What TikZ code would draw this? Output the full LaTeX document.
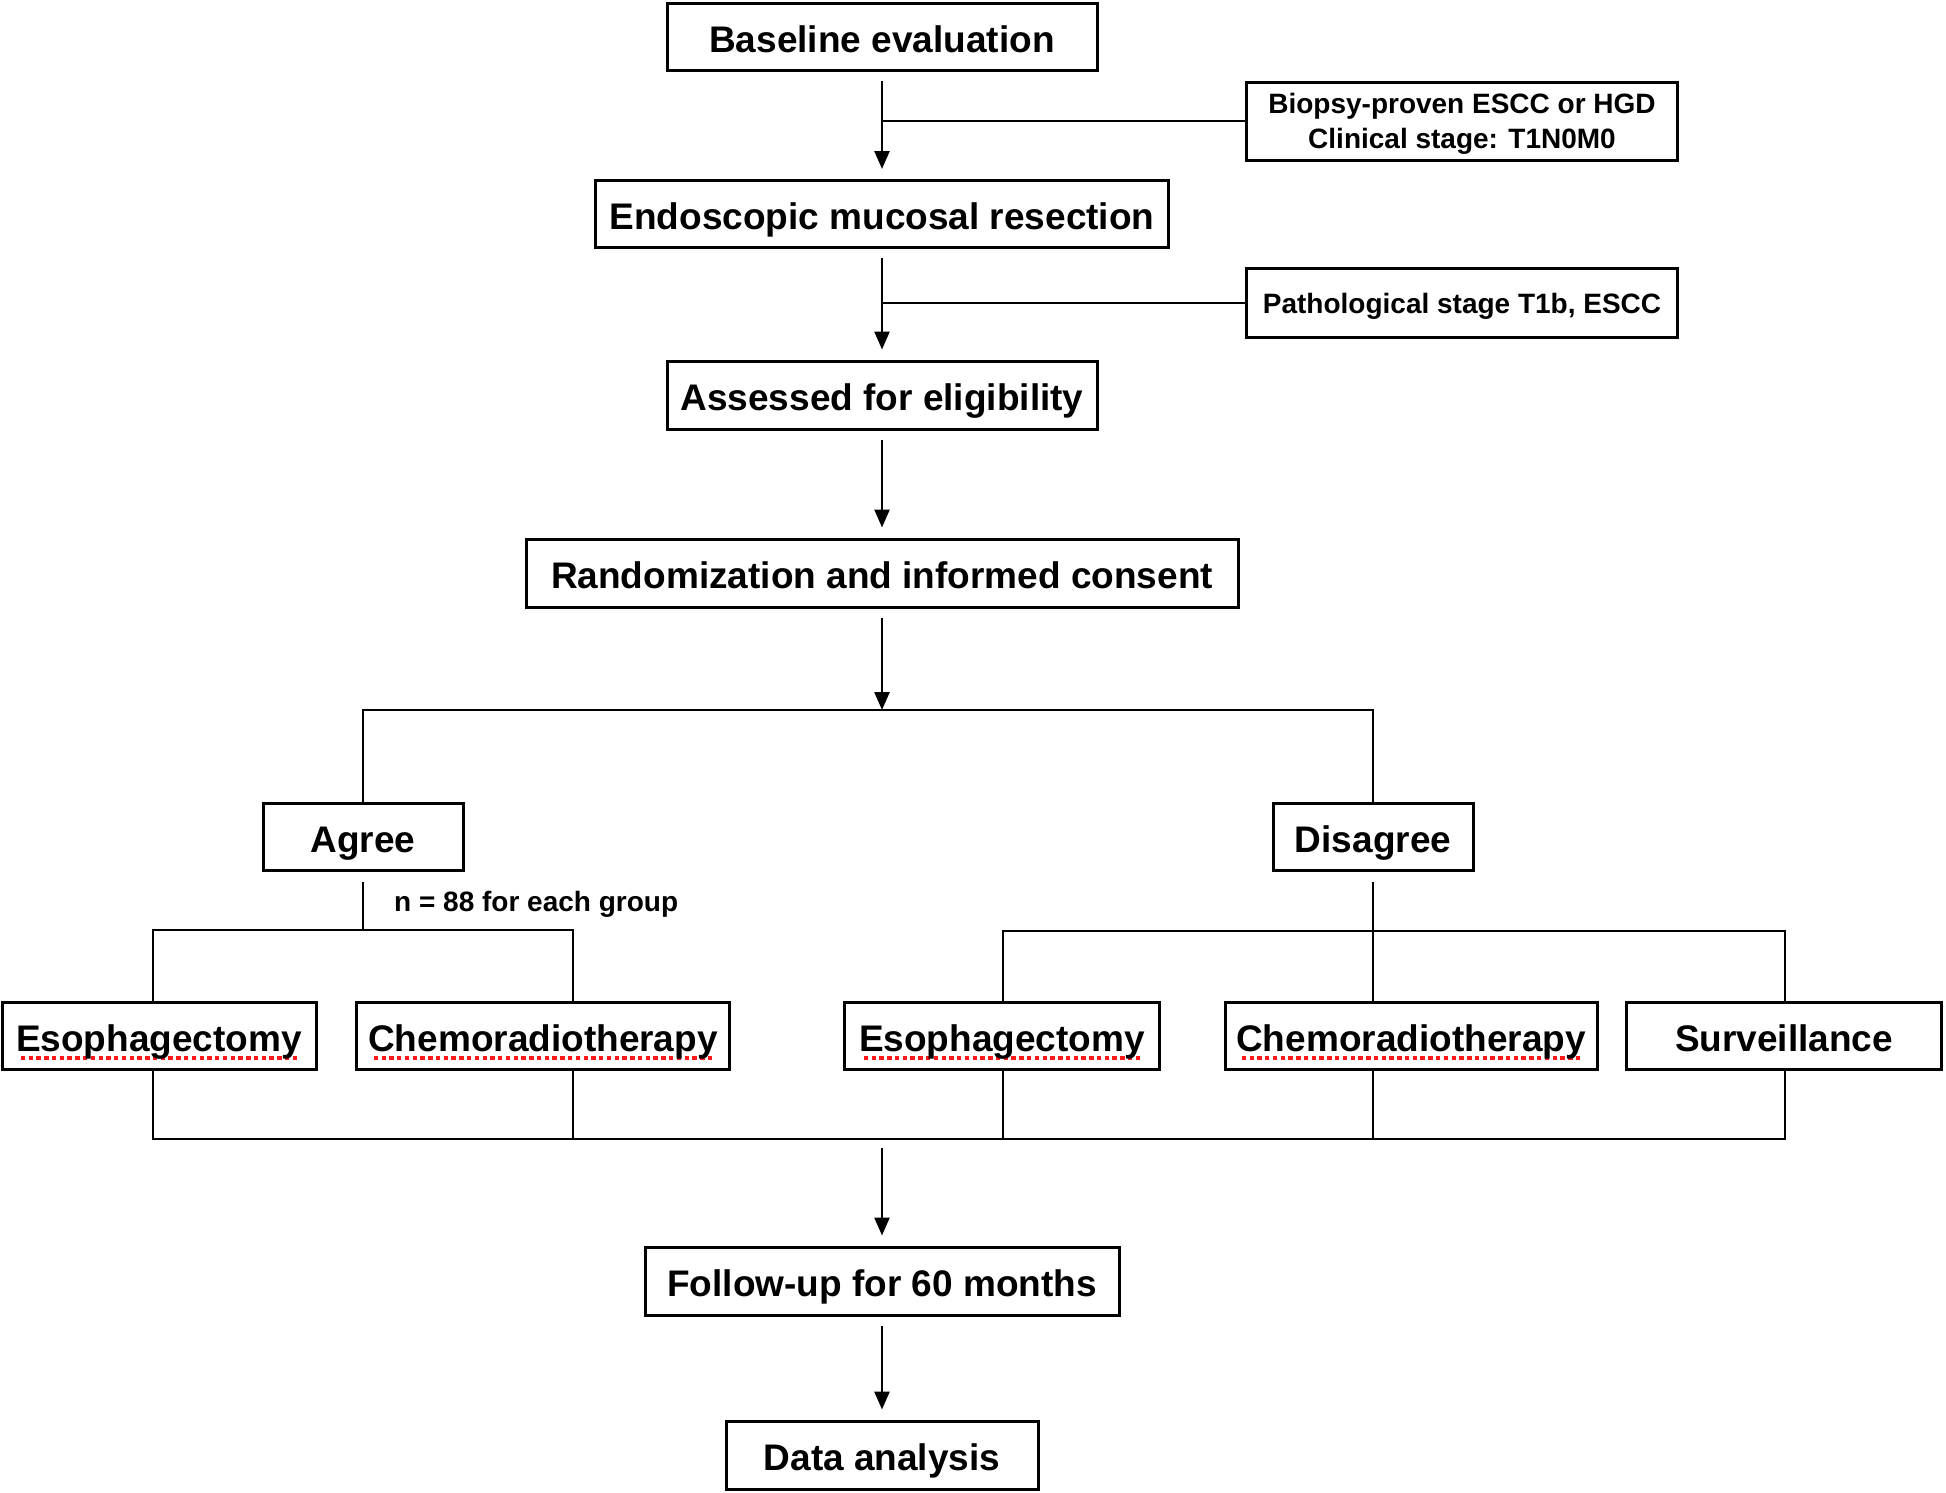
\documentclass[tikz,border=0pt]{standalone}
\usepackage{fontspec}
\setmainfont{Liberation Sans}
\usetikzlibrary{arrows.meta}

% red dashed spell-check mark under a word
\newsavebox{\wordbox}
\newcommand{\spellmark}[1]{\sbox{\wordbox}{#1}\rlap{\lower0.24em\hbox to\wd\wordbox{\cleaders\hbox{\kern0.045em\textcolor{red!90!white}{\rule{0.12em}{0.12em}}\kern0.045em}\hfill}}\usebox{\wordbox}}

\begin{document}
\begin{tikzpicture}[x=1pt,y=-1pt,
  box/.style={draw, line width=3pt, font=\fontsize{37}{44}\selectfont\bfseries, minimum height=67pt, inner sep=0pt, text height=30.7pt, text depth=0pt},
  note/.style={draw, line width=3pt, font=\fontsize{28}{35}\selectfont\bfseries, align=center, inner sep=0pt, text height=20.2pt, text depth=0pt},
  link/.style={line width=2.5pt},
  arr/.style={line width=2.5pt, -{Triangle[width=15pt,length=18pt]}, shorten <=9pt, shorten >=10pt}]
  \useasboundingbox (0,0) rectangle (1946,1492);

  % main column
  \node (base) [box, minimum width=430pt] at (882,37) {Baseline evaluation};
  \node (biopsy) [note, text height={}, minimum width=431pt, minimum height=78pt] at (1462,121) {Biopsy-proven ESCC or HGD\\Clinical stage: T1N0M0};
  \node (endo) [box, minimum width=573pt] at (882,214) {Endoscopic mucosal resection};
  \node (patho) [note, minimum width=431pt, minimum height=69pt] at (1462,303) {Pathological stage T1b, ESCC};
  \node (assess) [box, minimum width=430pt, minimum height=68pt] at (882,395) {Assessed for eligibility};
  \node (rand) [box, minimum width=712pt, minimum height=68pt] at (882,573) {Randomization and informed consent};

  % groups
  \node (agree) [box, minimum width=200pt] at (363,837) {Agree};
  \node (disagree) [box, minimum width=200pt] at (1373,837) {Disagree};
  \node (count) [anchor=west, font=\fontsize{28}{35}\selectfont\bfseries, inner sep=0pt] at (394,904) {n = 88 for each group};

  \node (esoA) [box, minimum width=314pt] at (159,1036) {\spellmark{Esophagectomy}};
  \node (chemoA) [box, minimum width=373pt] at (543,1036) {\spellmark{Chemoradiotherapy}};
  \node (esoB) [box, minimum width=315pt] at (1002,1036) {\spellmark{Esophagectomy}};
  \node (chemoB) [box, minimum width=372pt] at (1411,1036) {\spellmark{Chemoradiotherapy}};
  \node (surv) [box, minimum width=315pt] at (1784,1036) {Surveillance};

  \node (follow) [box, minimum width=474pt, minimum height=68pt] at (882,1281) {Follow-up for 60 months};
  \node (data) [box, minimum width=312pt, minimum height=68pt] at (882,1455) {Data analysis};

  % junction points
  \coordinate (top) at (882,710);
  \coordinate (aL) at (153,930);
  \coordinate (aR) at (573,930);
  \coordinate (dL) at (1003,931);
  \coordinate (dR) at (1785,931);
  \coordinate (bL) at (153,1139);
  \coordinate (bR) at (1785,1139);
  \coordinate (bM) at (882,1139);

  \draw[arr] (base) -- (endo);
  \draw[link] (biopsy) -- (biopsy -| base);
  \draw[arr] (endo) -- (assess);
  \draw[link] (patho) -- (patho -| endo);
  \draw[arr] (assess) -- (rand);
  \draw[arr, shorten >=0pt] (rand) -- (top);

  \draw[link] (agree.north) -- (agree.north |- top) -- (disagree.north |- top) -- (disagree.north);

  \draw[link] ([yshift=-10pt]agree.south) -- (agree.south |- aL);
  \draw[link] (esoA.north -| aL) -- (aL) -- (aR) -- (chemoA.north -| aR);
  \draw[link] ([yshift=-10pt]disagree.south) -- (chemoB.north -| disagree);
  \draw[link] (esoB.north -| dL) -- (dL) -- (dR) -- (surv.north -| dR);

  \draw[link] (esoA.south -| bL) -- (bL) -- (bR) -- (surv.south -| bR);
  \draw[link] (chemoA.south -| aR) -- (aR |- bL);
  \draw[link] (esoB.south -| dL) -- (dL |- bL);
  \draw[link] (chemoB.south -| disagree) -- (disagree |- bL);

  \draw[arr] (bM) -- (follow);
  \draw[arr] (follow) -- (data);
\end{tikzpicture}
\end{document}
